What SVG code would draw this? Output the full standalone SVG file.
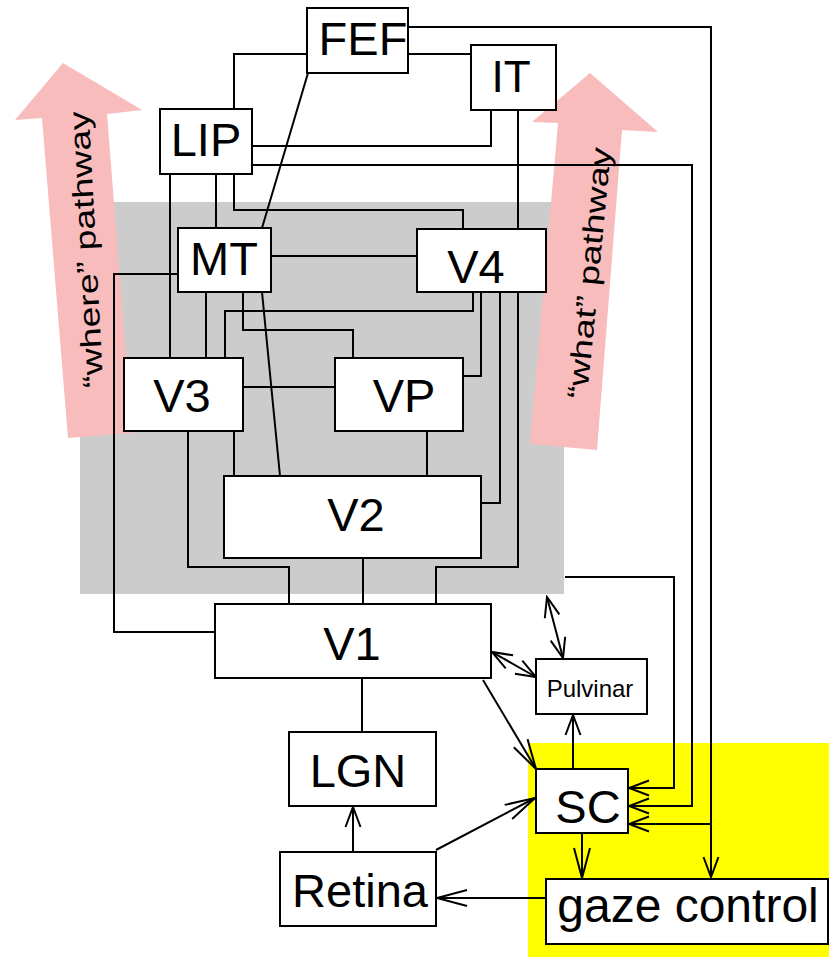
<svg xmlns="http://www.w3.org/2000/svg" width="829" height="957" viewBox="0 0 829 957">
<style>
.n rect{fill:#fff;stroke:#000;stroke-width:2}
.n text{font-family:"Liberation Sans",Arial,sans-serif;font-size:47px;text-anchor:middle;fill:#000}
#conn path{fill:none;stroke:#000;stroke-width:2}
.pw{font-family:"Liberation Sans",Arial,sans-serif;font-size:29px;text-anchor:middle;fill:#000}
</style>
<defs>
<marker id="a" markerUnits="userSpaceOnUse" markerWidth="26" markerHeight="22" viewBox="-24 -11 26 22" refX="0" refY="0" orient="auto-start-reverse"><path d="M-20,-7.5 L0,0 L-20,7.5" fill="none" stroke="#000" stroke-width="2"/></marker>
<marker id="b" markerUnits="userSpaceOnUse" markerWidth="36" markerHeight="22" viewBox="-34 -11 36 22" refX="0" refY="0" orient="auto-start-reverse"><path d="M-30,-8 L0,0 L-30,8" fill="none" stroke="#000" stroke-width="2"/></marker>
</defs>
<rect width="829" height="957" fill="#fff"/>
<rect id="gray" x="80" y="202" width="484" height="392" fill="#cccccc"/>
<rect id="yellow" x="528" y="743" width="301" height="214" fill="#ffff00"/>
<g id="where-arrow">
<polygon points="63,63 142,110 107,114 132,433 68,438 42,118 15,120" fill="#f8bcbc"/>
<text class="pw" x="96" y="249" transform="rotate(-93 96 249)" textLength="277" lengthAdjust="spacingAndGlyphs">“where” pathway</text>
</g>
<g id="what-arrow">
<polygon points="590,73 658,132 622,130 597,450 530,444 558,123 532,122" fill="#f8bcbc"/>
<text class="pw" x="599" y="274" transform="rotate(-84.5 599 274)" textLength="252" lengthAdjust="spacingAndGlyphs">“what” pathway</text>
</g>
<g id="conn">
<path d="M307,54 H234 V109"/>
<path d="M308,73 L262,228"/>
<path d="M408,54 H471"/>
<path d="M408,27 H711 V877" marker-end="url(#a)"/>
<path d="M711,824 H629" marker-end="url(#a)"/>
<path d="M491,110 V146 H252"/>
<path d="M518,110 V229"/>
<path d="M252,165 H692 V806 H629" marker-end="url(#a)"/>
<path d="M170,174 V358"/>
<path d="M216,174 V228"/>
<path d="M234,174 V210 H463 V229"/>
<path d="M271,256 H417"/>
<path d="M178,274 H114 V632 H215"/>
<path d="M206,292 V358"/>
<path d="M243,292 V330 H353 V358"/>
<path d="M262,292 L280,476"/>
<path d="M473,292 V311 H225 V358"/>
<path d="M481,292 V376 H463"/>
<path d="M500,292 V503 H481"/>
<path d="M518,292 V567 H436 V604"/>
<path d="M243,387 H335"/>
<path d="M188,431 V567 H289 V604"/>
<path d="M234,431 V476"/>
<path d="M427,431 V476"/>
<path d="M363,558 V604"/>
<path d="M547,597 L563,658" marker-start="url(#a)" marker-end="url(#a)"/>
<path d="M492,652 L536,677" marker-start="url(#a)" marker-end="url(#a)"/>
<path d="M483,680 L536,769" marker-end="url(#b)"/>
<path d="M573,769 V715" marker-end="url(#a)"/>
<path d="M582,833 V878" marker-end="url(#b)"/>
<path d="M546,898 H437" marker-end="url(#b)"/>
<path d="M436,850 L535,798" marker-end="url(#b)"/>
<path d="M353,852 V807" marker-end="url(#a)"/>
<path d="M362,678 V732"/>
<path d="M565,577 H674 V788 H629" marker-end="url(#a)"/>
</g>
<g id="FEF" class="n"><rect x="307" y="8" width="101" height="65"/><text x="363" y="55">FEF</text></g>
<g id="IT" class="n"><rect x="471" y="45" width="85" height="65"/><text x="511" y="92" style="font-size:44px">IT</text></g>
<g id="LIP" class="n"><rect x="160" y="109" width="92" height="65"/><text x="206" y="156">LIP</text></g>
<g id="MT" class="n"><rect x="178" y="228" width="93" height="64"/><text x="224" y="275">MT</text></g>
<g id="V4" class="n"><rect x="417" y="229" width="129" height="63"/><text x="476" y="283">V4</text></g>
<g id="V3" class="n"><rect x="124" y="358" width="119" height="73"/><text x="182" y="412">V3</text></g>
<g id="VP" class="n"><rect x="335" y="358" width="128" height="73"/><text x="404" y="412">VP</text></g>
<g id="V2" class="n"><rect x="224" y="476" width="257" height="82"/><text x="356" y="531">V2</text></g>
<g id="V1" class="n"><rect x="215" y="604" width="276" height="74"/><text x="352" y="660">V1</text></g>
<g id="LGN" class="n"><rect x="289" y="732" width="147" height="74"/><text x="358" y="787">LGN</text></g>
<g id="Retina" class="n"><rect x="280" y="852" width="156" height="74"/><text x="360" y="907">Retina</text></g>
<g id="Pulvinar" class="n"><rect x="536" y="659" width="111" height="55"/><text x="590" y="697" style="font-size:24px">Pulvinar</text></g>
<g id="SC" class="n"><rect x="536" y="769" width="92" height="64"/><text x="588" y="823">SC</text></g>
<g id="gaze" class="n"><rect x="546" y="879" width="282" height="65"/><text x="688" y="922" style="font-size:48px">gaze control</text></g>
</svg>
